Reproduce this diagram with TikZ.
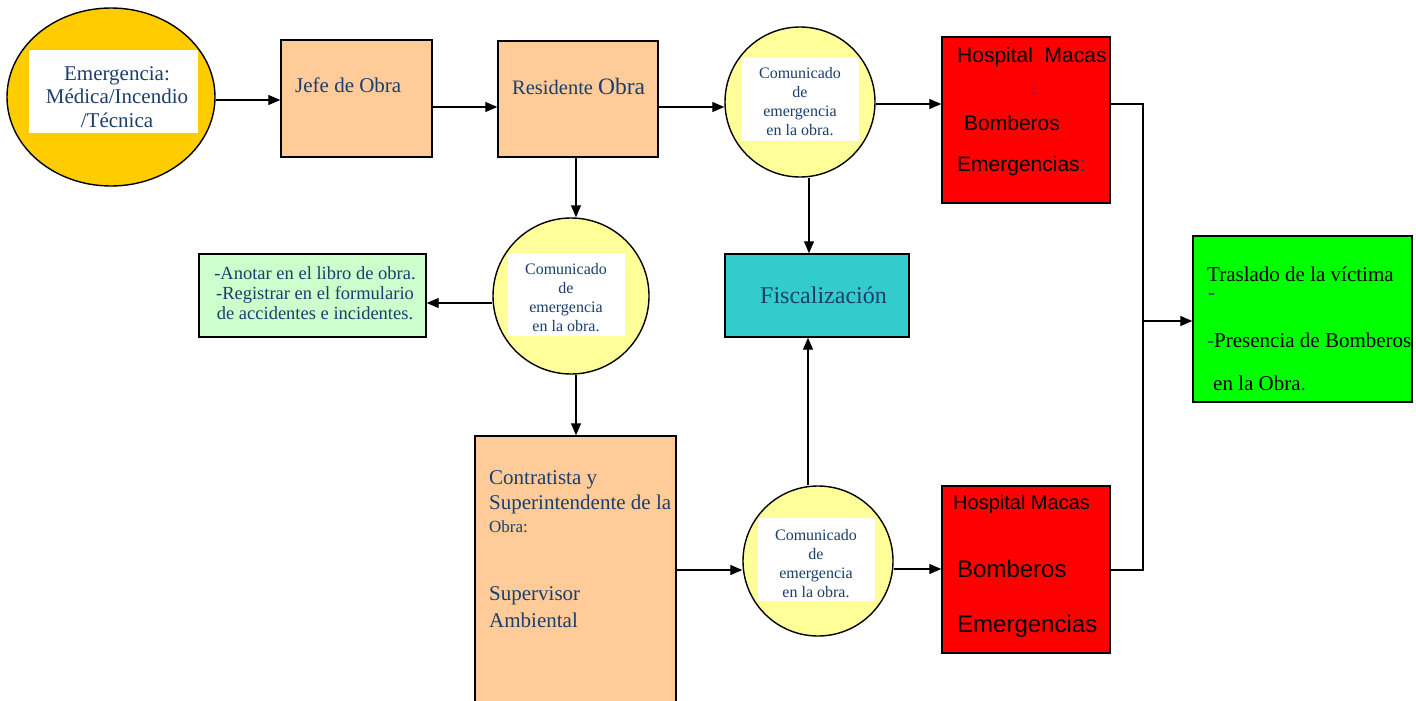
\documentclass[tikz,border=0pt]{standalone}
\usepackage{fontspec}
\setmainfont{Liberation Serif}
\newfontfamily\arialf{Liberation Sans}
\usetikzlibrary{arrows.meta,shapes.geometric}
\definecolor{ink}{HTML}{1B3E6C}
\definecolor{peach}{HTML}{FFCC99}
\definecolor{gold}{HTML}{FFCC00}
\definecolor{paleyellow}{HTML}{FFFF99}
\definecolor{mint}{HTML}{CCFFCC}
\definecolor{teal}{HTML}{33CCCC}
\definecolor{alarm}{HTML}{FF0000}
\definecolor{lime}{HTML}{00FF00}
\newcommand{\fsz}[2]{\fontsize{#1}{#2}\selectfont}

\begin{document}
\begin{tikzpicture}[x=1pt,y=-1pt,
  box/.style={rectangle,draw=black,line width=1.4pt,inner sep=0pt},
  disc/.style={circle,draw=black,line width=1.4pt,fill=paleyellow,inner sep=0pt,minimum size=150},
  card/.style={rectangle,fill=white,inner sep=0pt},
  txt/.style={inner sep=0pt,text=ink},
  blk/.style={inner sep=0pt,text=black},
  msg/.style={txt,align=center,font=\fsz{16}{19}},
  arr/.style={-{Triangle[length=12pt,width=10pt]},line width=1.2pt},
  wire/.style={line width=1.2pt}]
\useasboundingbox (0,0) rectangle (1416,701);
\clip (0,0) rectangle (1416,701);

% ---- shapes ----
\node[ellipse,draw=black,line width=1.4pt,fill=gold,inner sep=0pt,
      minimum width=208,minimum height=178] (emerg) at (111,97) {};
\node[card,minimum width=169,minimum height=83] (emergcard) at (113.5,91.5) {};

\node[box,fill=peach,minimum width=151,minimum height=117] (jefe) at (356.5,98.5) {};
\node[box,fill=peach,minimum width=160,minimum height=116] (resid) at (578,99) {};

\node[disc] (com1) at (800,102) {};
\node[card,minimum width=118,minimum height=83] (com1card) at (800,99.5) {};

\node[box,fill=alarm,minimum width=168,minimum height=166] (hosp1) at (1026,120) {};
\node[box,fill=teal,minimum width=184,minimum height=83] (fisc) at (817,295.5) {};

\node[disc,minimum size=156] (com2) at (571,296) {};
\node[card,minimum width=117,minimum height=83] (com2card) at (566.5,294.5) {};

\node[box,fill=mint,minimum width=227,minimum height=83] (anot) at (312.5,295.5) {};

\node[box,fill=peach,minimum width=201,minimum height=274] (contr) at (575.5,573) {};

\node[disc] (com3) at (818,561) {};
\node[card,minimum width=117,minimum height=83] (com3card) at (816.5,559.5) {};

\node[box,fill=alarm,minimum width=168,minimum height=167] (hosp2) at (1026,569.5) {};
\node[box,fill=lime,minimum width=219,minimum height=166] (green) at (1302.5,319) {};

% ---- texts ----
\node[txt,align=center,font=\fsz{21}{23.5}] (emergtxt) at (117,97)
  {Emergencia:\\Médica/Incendio\\/Técnica};
\node[txt,anchor=west,font=\fsz{21}{24}] (jefetxt) at (295,85) {Jefe de Obra};
\node[txt,anchor=west,font=\fsz{20.5}{24}] (residtxt) at (512,86)
  {Residente {\fsz{23.5}{26}Obra}};

\node[msg] (com1txt) at (800,102) {Comunicado\\de\\emergencia\\en la obra.};
\node[msg] (com2txt) at (566,298) {Comunicado\\de\\emergencia\\en la obra.};
\node[msg] (com3txt) at (816,564) {Comunicado\\de\\emergencia\\en la obra.};

\node[txt,align=center,font=\fsz{18.5}{20}] (anottxt) at (315,293)
  {-Anotar en el libro de obra.\\-Registrar en el formulario\\de accidentes e incidentes.};

\node[txt,anchor=west,font=\fsz{24}{26}] (fisctxt) at (760,295) {Fiscalización};

\node[blk,anchor=west,font=\arialf\fsz{21}{24}] (h1a) at (957,57) {Hospital\ \ Macas};
\node[txt,anchor=west,font=\arialf\fsz{14}{16}] (h1b) at (1032,92) {:};
\node[blk,anchor=west,font=\arialf\fsz{21}{24}] (h1c) at (964,123) {Bomberos};
\node[blk,anchor=west,font=\arialf\fsz{21}{24}] (h1d) at (957,166)
  {Emergencias{\color{ink}:}};

\node[blk,anchor=west,font=\arialf\fsz{20}{24}] (h2a) at (953,504) {Hospital Macas};
\node[blk,anchor=west,font=\arialf\fsz{24}{27}] (h2b) at (957,569) {Bomberos};
\node[blk,anchor=west,font=\arialf\fsz{24}{27}] (h2c) at (957,626) {Emergencias};

\node[blk,anchor=west,font=\fsz{21}{24}] (g1) at (1207,274) {Traslado de la víctima};
\node[txt,anchor=west,font=\fsz{21}{24}] (g2) at (1208,297) {-};
\node[blk,anchor=west,font=\fsz{21}{24}] (g3) at (1207,340)
  {{\color{ink}-}Presencia de Bomberos};
\node[blk,anchor=west,font=\fsz{21}{24}] (g4) at (1213,383) {en la Obra{\color{ink}.}};

\node[txt,anchor=west,font=\fsz{21}{24}] (c1) at (489,480) {Contratista y};
\node[txt,anchor=west,font=\fsz{21}{24}] (c2) at (489,504) {Superintendente de la};
\node[txt,anchor=west,font=\fsz{17}{20}] (c3) at (489,527) {Obra:};
\node[txt,anchor=west,font=\fsz{21}{24}] (c4) at (489,596) {Supervisor};
\node[txt,anchor=west,font=\fsz{21}{24}] (c5) at (489,620) {Ambiental};

% ---- connectors ----
\draw[arr] ([yshift=-3pt]emerg.east) -- ([yshift=-3pt]emerg.east -| jefe.west);
\draw[arr] ([yshift=-8.5pt]jefe.east) -- ([yshift=-8.5pt]jefe.east -| resid.west);
\draw[arr] ([yshift=-8pt]resid.east) -- ([yshift=-5pt]com1.west);
\draw[arr] ([yshift=-2pt]com1.east) -- ([yshift=-2pt]com1.east -| hosp1.west);
\draw[arr] ([xshift=-2pt]resid.south) -- ([xshift=-2pt]resid.south |- com2.north);
\draw[arr] ([yshift=-7pt]com2.west) -- ([yshift=-7pt]com2.west -| anot.east);
\draw[arr] ([xshift=5pt]com2.south) -- ([xshift=5pt]com2.south |- contr.north);
\draw[arr] ([xshift=9pt]com1.south) -- ([xshift=9pt]com1.south |- fisc.north);
\draw[arr] ([xshift=-10pt]com3.north) -- ([xshift=-10pt]com3.north |- fisc.south);
\draw[arr] ([yshift=-9pt]com3.west -| contr.east) -- ([yshift=-9pt]com3.west);
\draw[arr] ([yshift=-8pt]com3.east) -- ([yshift=-8pt]com3.east -| hosp2.west);

\coordinate (busTop) at (1143,104);
\coordinate (busBot) at (1143,570);
\coordinate (busMid) at (1143,321);
\draw[wire] (hosp1.east |- busTop) -- (busTop) -- (busBot) -- (hosp2.east |- busBot);
\draw[arr] (busMid) -- (busMid -| green.west);
\end{tikzpicture}
\end{document}
